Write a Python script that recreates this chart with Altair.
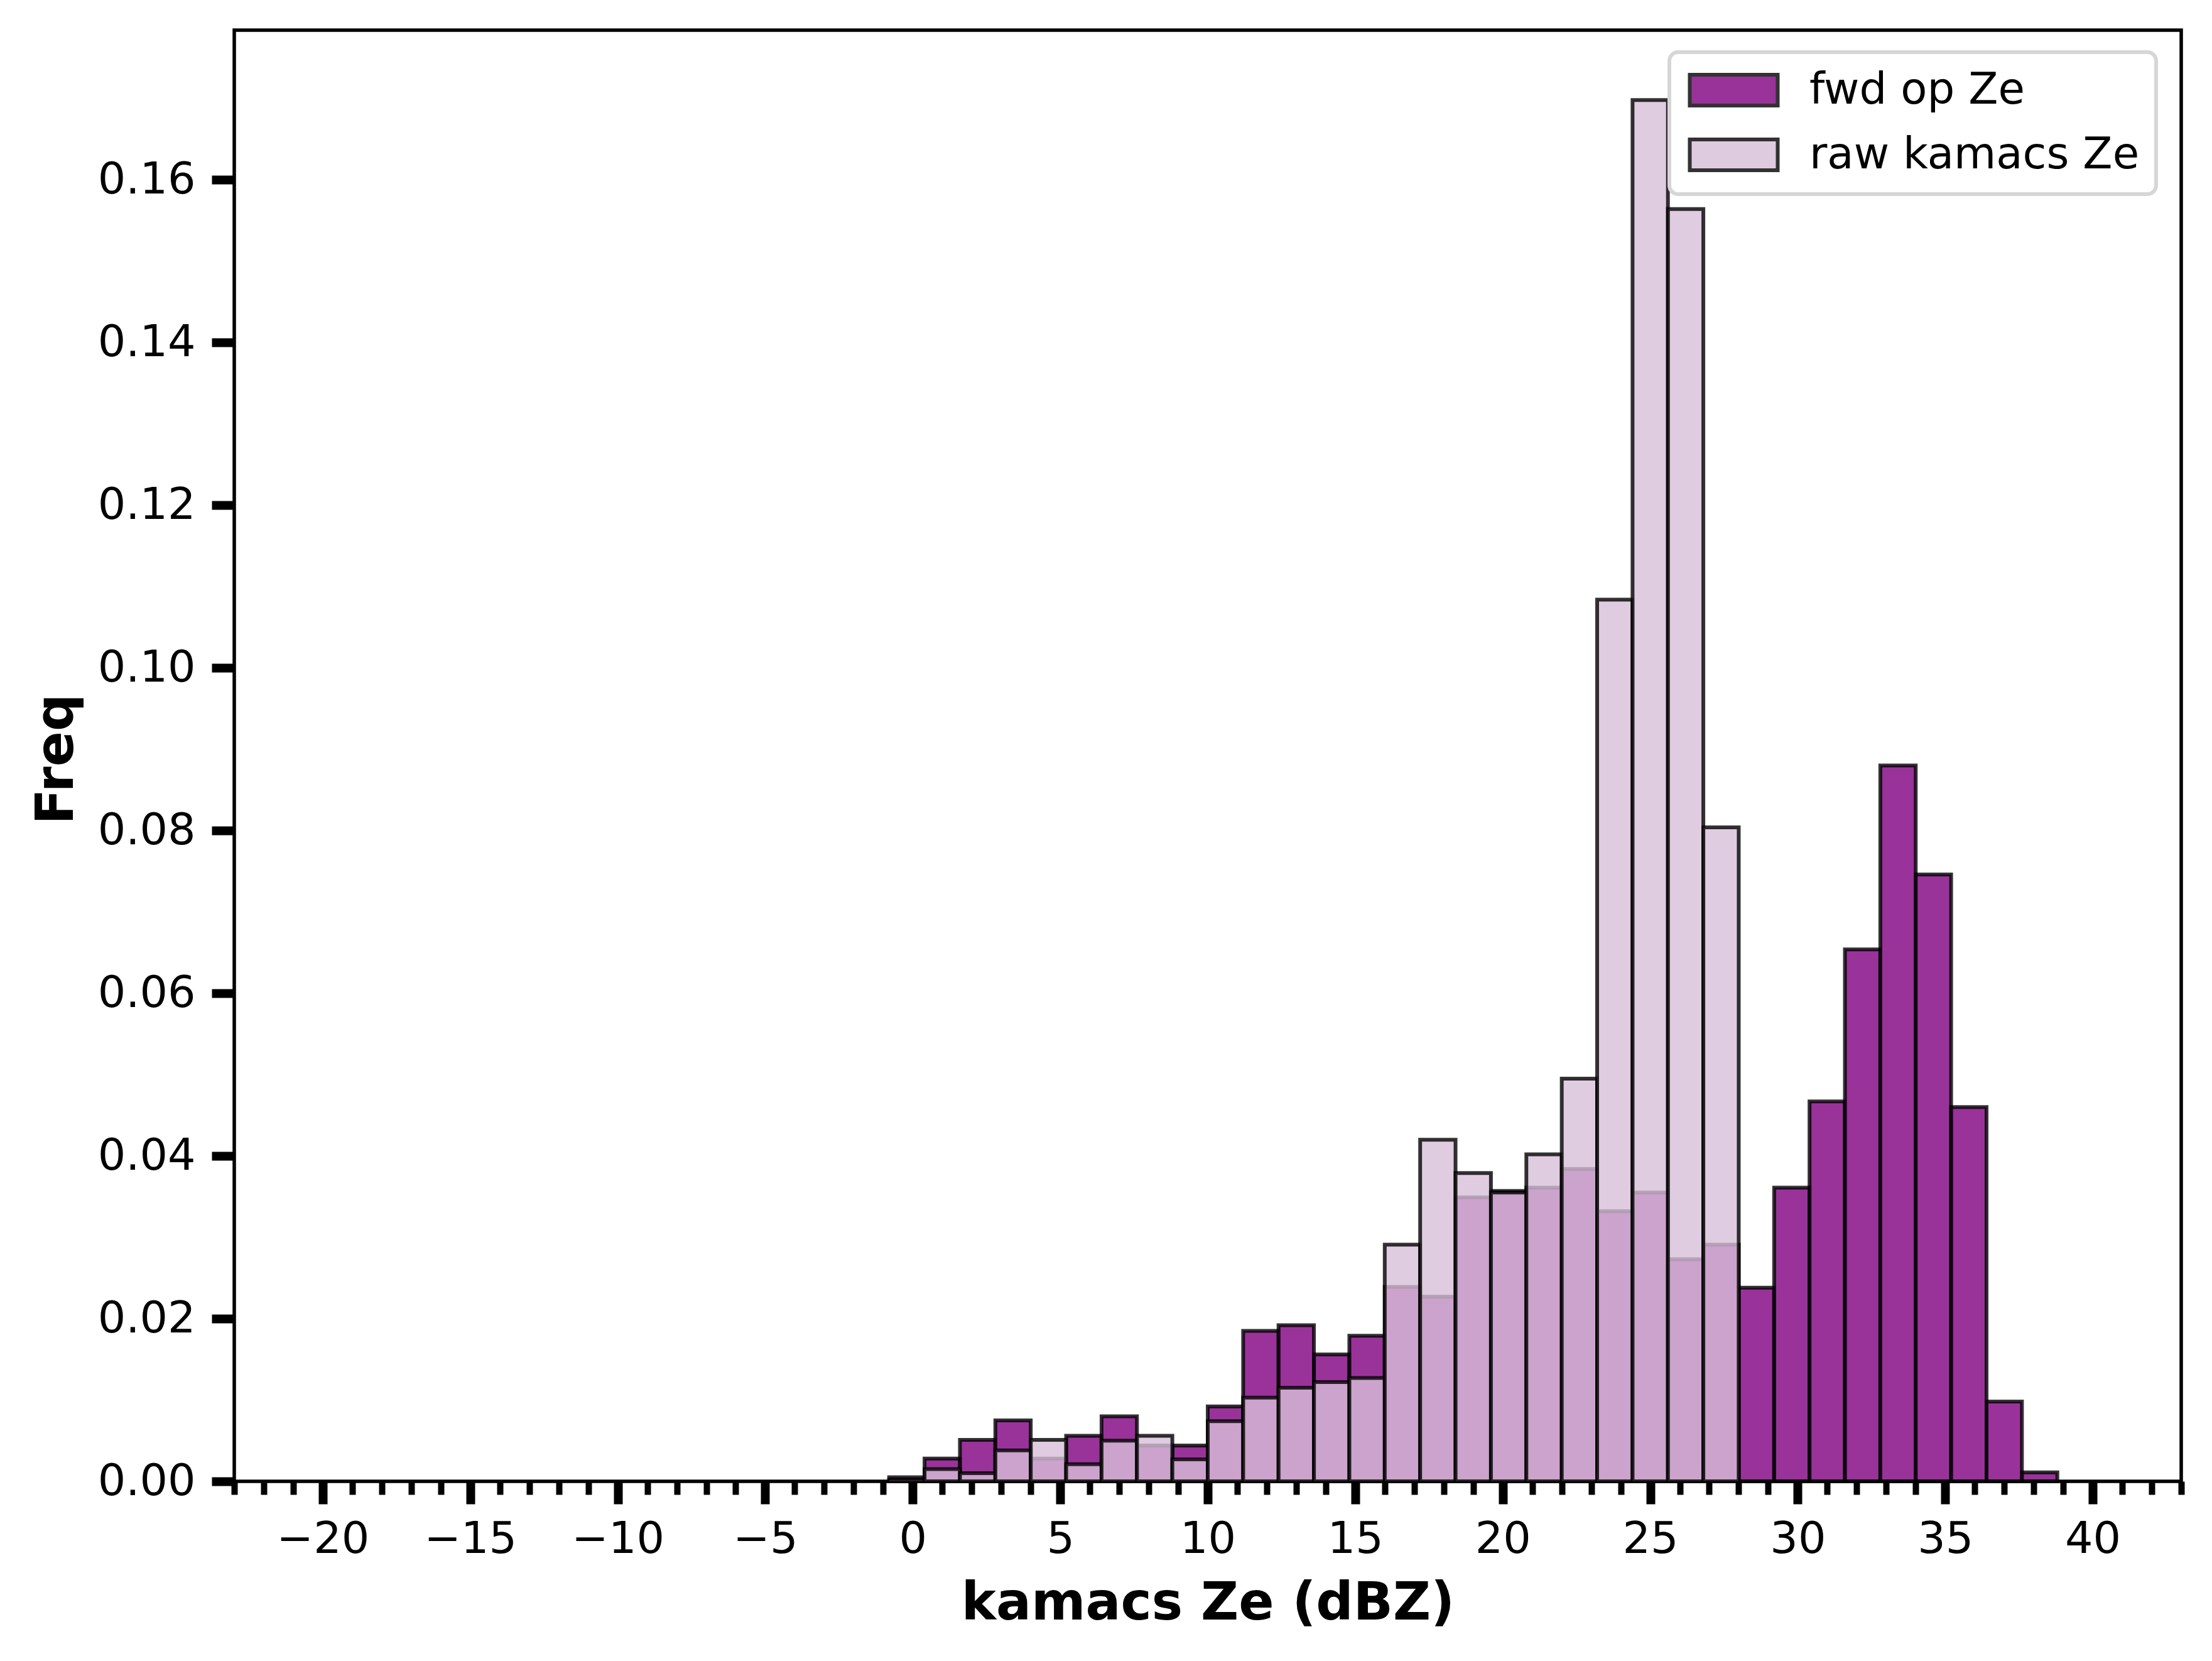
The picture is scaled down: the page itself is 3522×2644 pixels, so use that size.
import altair as alt
import pandas as pd

# histogram: 1.2 dBZ bins between -20 and 40, only the populated ones are listed (left edges)
bin_left = [-0.8, 0.4, 1.6, 2.8, 4.0, 5.2, 6.4, 7.6, 8.8, 10.0, 11.2,
            12.4, 13.6, 14.8, 16.0, 17.2, 18.4, 19.6, 20.8, 22.0, 23.2, 24.4,
            25.6, 26.8, 28.0, 29.2, 30.4, 31.6, 32.8, 34.0, 35.2, 36.4, 37.6]
bin_width = 1.2

fwd_freq = [0.0005, 0.0028, 0.0051, 0.0075, 0.0028, 0.0056, 0.0080, 0.0044,
            0.0044, 0.0092, 0.0185, 0.0192, 0.0156, 0.0179, 0.0239, 0.0227,
            0.0349, 0.0357, 0.0361, 0.0384, 0.0332, 0.0355, 0.0273, 0.0291,
            0.0238, 0.0361, 0.0467, 0.0654, 0.0880, 0.0746, 0.0460, 0.0098,
            0.0011]
raw_freq = [0.0002, 0.0015, 0.0010, 0.0038, 0.0051, 0.0021, 0.0050, 0.0056,
            0.0027, 0.0074, 0.0103, 0.0115, 0.0122, 0.0127, 0.0291, 0.0420,
            0.0379, 0.0355, 0.0402, 0.0495, 0.1084, 0.1698, 0.1564, 0.0804,
            0, 0, 0, 0, 0, 0, 0, 0, 0]

series_names = ["fwd op Ze", "raw kamacs Ze"]
series_colors = ["purple", "thistle"]

x_major = [-20, -15, -10, -5, 0, 5, 10, 15, 20, 25, 30, 35, 40]
x_minor = list(range(-23, 44))
y_ticks = [0.0, 0.02, 0.04, 0.06, 0.08, 0.10, 0.12, 0.14, 0.16]


def make_df(name, freq):
    return pd.DataFrame({
        "series": name,
        "x0": bin_left,
        "x1": [b + bin_width for b in bin_left],
        "freq": freq,
    })


fwd_df = make_df(series_names[0], fwd_freq)
raw_df = make_df(series_names[1], raw_freq)

x_scale = alt.Scale(domain=[-23, 43], nice=False, zero=False)
y_scale = alt.Scale(domain=[0, 0.1784], nice=False, zero=False)
color_scale = alt.Scale(domain=series_names, range=series_colors)

y_axis = alt.Axis(values=y_ticks, format=".2f", title="Freq", tickSize=36,
                  tickWidth=14, labelPadding=26, domain=False, grid=False,
                  titleX=-258, titleY=1160, titleBaseline="alphabetic")

# wide flat patch like matplotlib's legend handles
legend = alt.Legend(
    title=None, orient="none", legendX=2285, legendY=35,
    fillColor="white", strokeColor="#d6d6d6",
    cornerRadius=14, labelFont="DejaVu Sans", labelFontSize=69,
    labelColor="black", labelOffset=86, labelLimit=1000,
    symbolType="M-2.857,-1L2.857,-1L2.857,1L-2.857,1Z", symbolSize=2401,
    symbolOffset=42, symbolStrokeColor="black", symbolStrokeWidth=6,
    symbolOpacity=0.8,
)


def hist_layer(df, x_axis):
    return alt.Chart(df).mark_rect(
        stroke="black", strokeOpacity=0.8, strokeWidth=6, fillOpacity=0.8
    ).encode(
        x=alt.X("x0:Q", scale=x_scale, axis=x_axis),
        x2="x1:Q",
        y=alt.Y("freq:Q", scale=y_scale, axis=y_axis),
        y2=alt.datum(0),
        color=alt.Color("series:N", scale=color_scale, legend=legend),
    )


# major ticks with labels on the first layer, minor ticks on the second
major_axis = alt.Axis(values=x_major, format="d", title="kamacs Ze (dBZ)",
                      tickSize=36, tickWidth=14, labelPadding=22,
                      domain=False, grid=False, orient="bottom",
                      titleY=219, titleBaseline="alphabetic")
minor_axis = alt.Axis(values=x_minor, labels=False, title=None, tickSize=21,
                      tickWidth=10, domain=False, grid=False, orient="bottom")

chart = alt.layer(
    hist_layer(fwd_df, major_axis),
    hist_layer(raw_df, minor_axis),
).resolve_axis(
    x="independent"
).properties(
    width=3100, height=2310,
    padding={"left": 365, "top": 40, "right": 41, "bottom": 270},
    autosize=alt.AutoSizeParams(type="none"),
).configure_view(
    stroke="black", strokeWidth=5.5
).configure_axis(
    labelFont="DejaVu Sans", labelFontSize=70, labelColor="black",
    tickColor="black", titleFont="DejaVu Sans", titleFontSize=83,
    titleFontWeight="bold", titleColor="black",
).configure_legend(
    padding=26, rowPadding=30, strokeWidth=6,
)

chart.save("out.html", embed_options={"renderer": "svg", "actions": False})
